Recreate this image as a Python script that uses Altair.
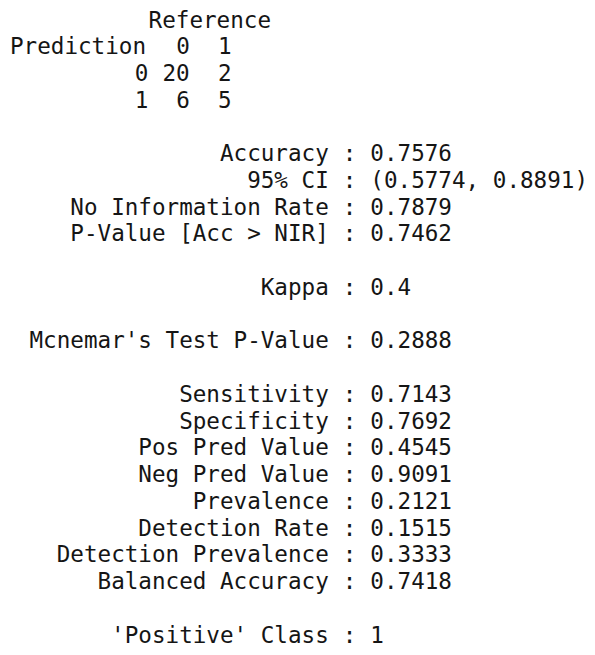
import altair as alt
import pandas as pd

# ---- data ----
header_tokens = ["Reference"]
header_cols = [10]
header_lines = [0]

matrix_tokens = ["Prediction", "0", "1", "0", "20", "2", "1", "6", "5"]
matrix_cols = [0, 12, 15, 9, 11, 15, 9, 12, 15]
matrix_lines = [1, 1, 1, 2, 2, 2, 3, 3, 3]

stat_labels = [
    "Accuracy", "95% CI", "No Information Rate", "P-Value [Acc > NIR]",
    "Kappa", "Mcnemar's Test P-Value",
    "Sensitivity", "Specificity", "Pos Pred Value", "Neg Pred Value",
    "Prevalence", "Detection Rate", "Detection Prevalence",
    "Balanced Accuracy", "'Positive' Class",
]
stat_values = [
    "0.7576", "(0.5774, 0.8891)", "0.7879", "0.7462",
    "0.4", "0.2888",
    "0.7143", "0.7692", "0.4545", "0.9091",
    "0.2121", "0.1515", "0.3333",
    "0.7418", "1",
]
stat_lines = [5, 6, 7, 8, 10, 12, 14, 15, 16, 17, 18, 19, 20, 21, 23]
label_end_col = 23
colon_col = 24
value_col = 26

# ---- layout ----
W, H = 579, 639
CHAR_W = 13.86
X0 = 2.0
LINE_H = 26.74
Y0 = 19.5
FONT = "DejaVu Sans Mono"
FS = 22.6
COLOR = "#151515"

xscale = alt.Scale(domain=[-X0 / CHAR_W, (W - X0) / CHAR_W], nice=False, zero=False)
yscale = alt.Scale(domain=[-Y0 / LINE_H, (H - Y0) / LINE_H], nice=False, zero=False, reverse=True)

def text_layer(df, align):
    return alt.Chart(df).mark_text(
        align=align, baseline="alphabetic", font=FONT, fontSize=FS, color=COLOR
    ).encode(
        x=alt.X("col:Q", scale=xscale, axis=None),
        y=alt.Y("line:Q", scale=yscale, axis=None),
        text=alt.Text("token:N"),
    )

hdr = pd.DataFrame({"token": header_tokens, "col": header_cols, "line": header_lines})
mat = pd.DataFrame({"token": matrix_tokens, "col": matrix_cols, "line": matrix_lines})
lab = pd.DataFrame({"token": stat_labels, "col": [label_end_col] * len(stat_labels), "line": stat_lines})
col = pd.DataFrame({"token": [":"] * len(stat_labels), "col": [colon_col] * len(stat_labels), "line": stat_lines})
val = pd.DataFrame({"token": stat_values, "col": [value_col] * len(stat_values), "line": stat_lines})

chart = alt.layer(
    text_layer(hdr, "left"),
    text_layer(mat, "left"),
    text_layer(lab, "right"),
    text_layer(col, "left"),
    text_layer(val, "left"),
).properties(
    width=W, height=H, padding=0, background="white",
    autosize=alt.AutoSizeParams(type="none")
).configure_view(stroke="transparent", strokeWidth=0)

chart.save("out.html", embed_options={"renderer": "svg", "actions": False})
